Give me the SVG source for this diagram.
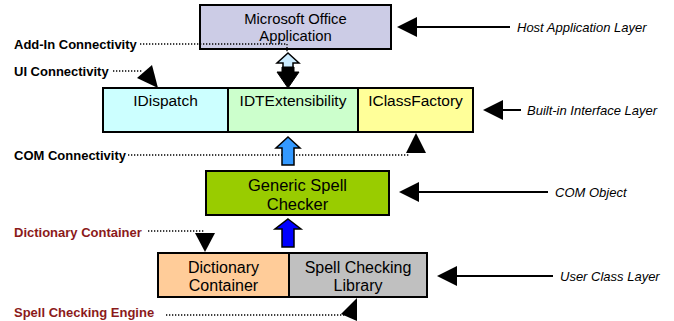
<svg xmlns="http://www.w3.org/2000/svg" width="674" height="321" viewBox="0 0 674 321">
<style>
.box{stroke:#000;stroke-width:2}
.lbl{font-family:"Liberation Sans",Arial,sans-serif;font-size:15.5px;fill:#000;text-anchor:middle}
.side{font-family:"Liberation Sans",Arial,sans-serif;font-size:13px;font-style:italic;fill:#000}
.conn{font-family:"Liberation Sans",Arial,sans-serif;font-size:13px;font-weight:bold;fill:#000}
.red{fill:#8B1A1A}
.dot{fill:none;stroke:#000;stroke-width:1.3;stroke-dasharray:1.3,1.7}
.line{stroke:#000;stroke-width:2;fill:none}
.head{fill:#000}
</style>
<rect width="674" height="321" fill="#fff"/>
<g id="node-office">
<rect class="box" x="200" y="5" width="191" height="44" fill="#CCCCE6"/>
<text class="lbl" x="295.5" y="23.5" style="font-size:14.8px">Microsoft Office</text>
<text class="lbl" x="295.5" y="40.5" style="font-size:14.8px">Application</text>
</g>
<g id="node-idispatch">
<rect class="box" x="103" y="88" width="125" height="44" fill="#CCFFFF"/>
<text class="lbl" x="165.5" y="106">IDispatch</text>
</g>
<g id="node-idtext">
<rect class="box" x="228" y="88" width="130" height="44" fill="#CCFFCC"/>
<text class="lbl" x="293" y="106">IDTExtensibility</text>
</g>
<g id="node-iclass">
<rect class="box" x="358" y="88" width="115" height="44" fill="#FFFF99"/>
<text class="lbl" x="415.5" y="106">IClassFactory</text>
</g>
<g id="node-generic">
<rect class="box" x="206" y="171" width="183" height="44" fill="#99CC00"/>
<text class="lbl" x="297.5" y="191" style="font-size:16.5px">Generic Spell</text>
<text class="lbl" x="297.5" y="210" style="font-size:16.5px">Checker</text>
</g>
<g id="node-dict">
<rect class="box" x="158" y="253" width="131" height="44" fill="#FFCC99"/>
<text class="lbl" x="223.5" y="273" style="font-size:16px">Dictionary</text>
<text class="lbl" x="223.5" y="291" style="font-size:16px">Container</text>
</g>
<g id="node-spelllib">
<rect class="box" x="289" y="253" width="138" height="44" fill="#C0C0C0"/>
<text class="lbl" x="358" y="273" style="font-size:16px">Spell Checking</text>
<text class="lbl" x="358" y="291" style="font-size:16px">Library</text>
</g>
<g id="labels">
<text class="conn" x="14" y="48.5">Add-In Connectivity</text>
<text class="conn" x="14" y="76">UI Connectivity</text>
<text class="conn" x="14" y="159.5">COM Connectivity</text>
<text class="conn red" x="14" y="236.5">Dictionary Container</text>
<text class="conn red" x="14" y="316.5">Spell Checking Engine</text>
<text class="side" x="517" y="31.5">Host Application Layer</text>
<text class="side" x="527" y="114.5">Built-in Interface Layer</text>
<text class="side" x="555" y="196.5">COM Object</text>
<text class="side" x="560" y="280.5">User Class Layer</text>
</g>
<g id="connectors">
<polyline class="dot" points="140,44 287,44 287,53"/>
<line class="dot" x1="113" y1="71" x2="142" y2="71"/>
<polygon class="head" points="137,78 152,65 158,88"/>
<line class="dot" x1="128" y1="155" x2="410" y2="155"/>
<polygon class="head" points="406,153 426,153 416,133"/>
<line class="dot" x1="148" y1="231" x2="205" y2="231"/>
<polygon class="head" points="195,233 215,233 205,252"/>
<line class="dot" x1="166" y1="315" x2="345" y2="315"/>
<polygon class="head" points="341,314 357,298 357,321"/>
<line class="line" x1="417" y1="27" x2="510" y2="27"/>
<polygon class="head" points="397,27 417,17 417,37"/>
<line class="line" x1="503" y1="110" x2="521" y2="110"/>
<polygon class="head" points="483,110 503,100 503,120"/>
<line class="line" x1="419" y1="192" x2="548" y2="192"/>
<polygon class="head" points="399,192 419,182 419,202"/>
<line class="line" x1="457" y1="276" x2="553" y2="276"/>
<polygon class="head" points="437,276 457,266 457,286"/>
<polygon points="288,53 299,63 293,63 293,70 283,70 283,63 277,63" fill="#CCECFF" stroke="#000" stroke-width="1.5"/>
<polygon points="282,67 294,67 294,72 299,72 288,88 277,72 282,72" fill="#000" stroke="#000" stroke-width="1"/>
<polygon points="288,137 300,148 294,148 294,165 282,165 282,148 276,148" fill="#3399FF" stroke="#000" stroke-width="1.5"/>
<polygon points="288,219 301,229 294,229 294,247 282,247 282,229 275,229" fill="#0000FF" stroke="#000" stroke-width="1.5"/>
</g>
</svg>
